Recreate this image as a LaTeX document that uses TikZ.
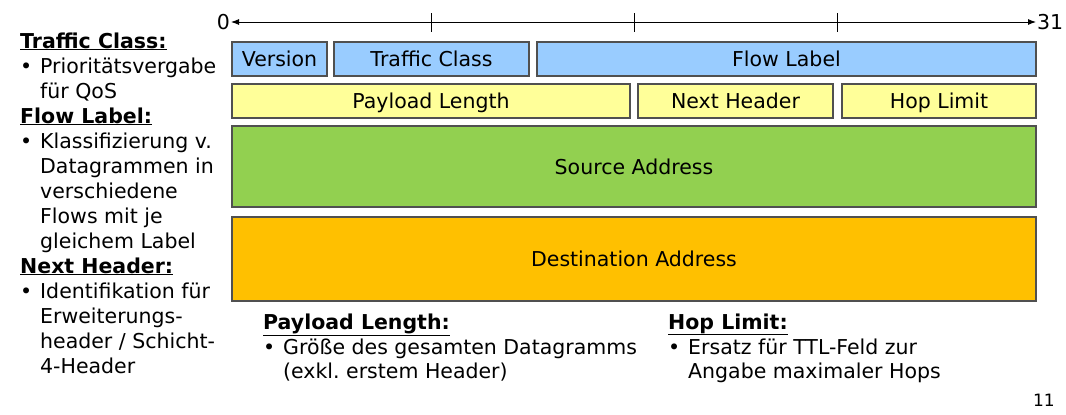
\documentclass[tikz,border=0pt]{standalone}
\usepackage{fontspec}
\setmainfont{DejaVu Sans}
\usetikzlibrary{arrows.meta}
\definecolor{fblue}{HTML}{99CCFF}
\definecolor{fyellow}{HTML}{FFFF99}
\definecolor{fgreen}{HTML}{92D050}
\definecolor{forange}{HTML}{FFC000}
\definecolor{fborder}{HTML}{505050}
\tikzset{
  field/.style={draw=fborder, line width=1.3pt, inner sep=0pt, text height=18pt, text depth=3pt, font=\fontsize{20.5}{25}\selectfont},
  txt/.style={anchor=base west, inner sep=0pt, font=\fontsize{20.5}{25}\selectfont},
  head/.style={txt, font=\fontsize{20.5}{25}\selectfont\bfseries},
  axis/.style={line width=0.9pt, {Latex[length=8pt,width=6pt]}-{Latex[length=8pt,width=6pt]}},
  tick/.style={line width=0.8pt}
}
\newcommand{\hd}[1]{\underline{#1}}
\begin{document}
\frenchspacing
\begin{tikzpicture}[x=1pt,y=-1pt]
\useasboundingbox (0,0) rectangle (1066,415);
% axis
\coordinate (a0) at (231,22);
\coordinate (a31) at (1036,22);
\draw[axis] (a0) -- (a31);
\node[anchor=east, inner sep=1pt, font=\fontsize{20.5}{25}\selectfont] (n0) at (a0) {0};
\node[anchor=west, inner sep=1pt, font=\fontsize{20.5}{25}\selectfont] (n31) at (a31) {31};
\foreach \x/\n in {431/t1,634/t2,837/t3}{
  \coordinate (\n a) at (\x,13);
  \coordinate (\n b) at (\x,32);
  \draw[tick] (\n a) -- (\n b);
}
% row 1
\node[field, fill=fblue, minimum width=95pt, minimum height=34pt] (ver) at (279.5,59) {Version};
\node[field, fill=fblue, minimum width=195pt, minimum height=34pt] (tc) at (431.5,59) {Traffic Class};
\node[field, fill=fblue, minimum width=499pt, minimum height=34pt] (fl) at (786.5,59) {Flow Label};
% row 2
\node[field, fill=fyellow, minimum width=398pt, minimum height=34pt] (pl) at (431,101) {Payload Length};
\node[field, fill=fyellow, minimum width=195pt, minimum height=34pt] (nh) at (735.5,101) {Next Header};
\node[field, fill=fyellow, minimum width=194pt, minimum height=34pt] (hl) at (939,101) {Hop Limit};
% addresses
\node[field, fill=fgreen, minimum width=804pt, minimum height=81pt] (src) at (634,166.5) {Source Address};
\node[field, fill=forange, minimum width=804pt, minimum height=84pt] (dst) at (634,259) {Destination Address};
% left text
\node[head] (h1) at (20,48) {\hd{Traffic Class:}};
\node[txt] (b1) at (20,73) {•};
\node[txt] (l1) at (40,73) {Prioritätsvergabe};
\node[txt] (l2) at (40,98) {für QoS};
\node[head] (h2) at (20,123) {\hd{Flow Label:}};
\node[txt] (b2) at (20,148) {•};
\node[txt] (l3) at (40,148) {Klassifizierung v.};
\node[txt] (l4) at (40,173) {Datagrammen in};
\node[txt] (l5) at (40,198) {verschiedene};
\node[txt] (l6) at (40,223) {Flows mit je};
\node[txt] (l7) at (40,248) {gleichem Label};
\node[head] (h3) at (20,273) {\hd{Next Header:}};
\node[txt] (b3) at (20,298) {•};
\node[txt] (l8) at (40,298) {Identifikation für};
\node[txt] (l9) at (40,323) {Erweiterungs-};
\node[txt] (l10) at (40,348) {header / Schicht-};
\node[txt] (l11) at (40,373) {4-Header};
% bottom text
\node[head] (h4) at (263,329) {\hd{Payload Length:}};
\node[txt] (b4) at (263,354) {•};
\node[txt] (l12) at (283,354) {Größe des gesamten Datagramms};
\node[txt] (l13) at (283,378) {(exkl. erstem Header)};
\node[head] (h5) at (668,329) {\hd{Hop Limit:}};
\node[txt] (b5) at (668,354) {•};
\node[txt] (l14) at (688,354) {Ersatz für TTL-Feld zur};
\node[txt] (l15) at (688,378) {Angabe maximaler Hops};
% page number
\node[anchor=base east, inner sep=0pt, font=\fontsize{17}{20}\selectfont] (pg) at (1055,406) {11};
\end{tikzpicture}
\end{document}
